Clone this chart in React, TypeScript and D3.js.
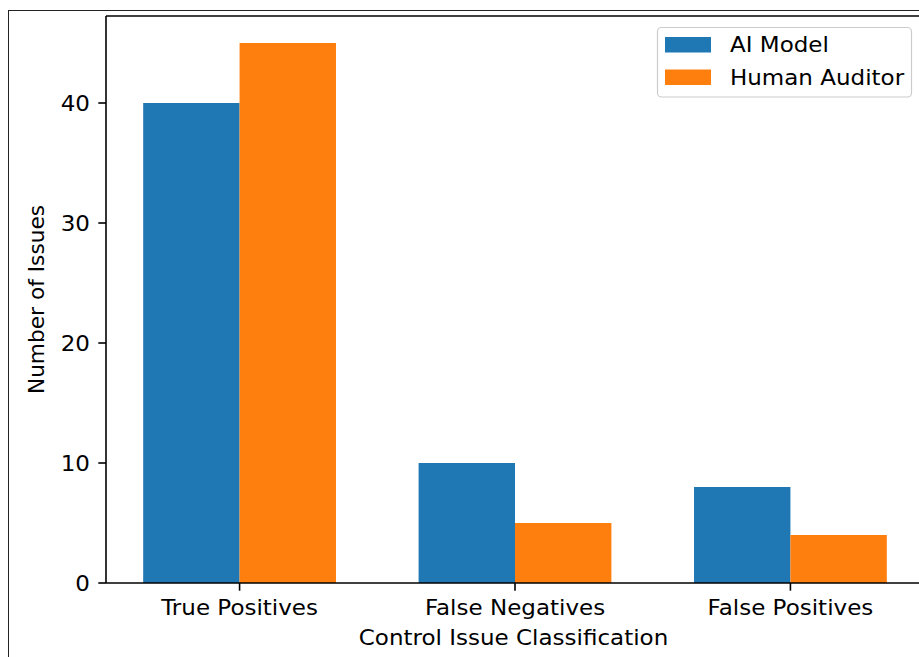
import React from "react";
import * as d3 from "d3";

const categories = ["True Positives", "False Negatives", "False Positives"];
const aiModel = [40, 10, 8];
const humanAuditor = [45, 5, 4];
const seriesNames = ["AI Model", "Human Auditor"];
const seriesColors = ["#1f77b4", "#ff7f0e"];
const yTicks = [0, 10, 20, 30, 40];

const W = 919;
const H = 657;
const FONT = "'DejaVu Sans', sans-serif";
const FS = 21.7;
const SX = 1.06;

function HText(props: {
  x: number;
  y: number;
  anchor?: "start" | "middle" | "end";
  baseline?: string;
  children: React.ReactNode;
}) {
  return (
    <g transform={`translate(${props.x}, ${props.y}) scale(${SX}, 1)`}>
      <text
        x={0}
        y={0}
        textAnchor={props.anchor || "start"}
        dominantBaseline={props.baseline as any}
        fontSize={FS}
        fill="#000"
      >
        {props.children}
      </text>
    </g>
  );
}

export default function App() {
  const left = 106;
  const right = 924;
  const top = 16;
  const bottom = 583;
  const barW = 0.35;
  const x = d3.scaleLinear().domain([-0.485, 2.485]).range([left, right]);
  const y = d3.scaleLinear().domain([0, 47.25]).range([bottom, top]);
  const series = [aiModel, humanAuditor];

  return (
    <svg
      width={W}
      height={H}
      style={{ position: "absolute", left: 0, top: 0, background: "#fff" }}
      fontFamily={FONT}
    >
      <rect x={0} y={0} width={W} height={H} fill="#fff" />
      <rect x={8.5} y={10.5} width={1200} height={1200} fill="none" stroke="#222" strokeWidth={1} />
      {series.map((vals, si) =>
        vals.map((v, i) => {
          const x0 = si === 0 ? x(i - barW) : x(i);
          const x1 = si === 0 ? x(i) : x(i + barW);
          return (
            <rect
              key={`${si}-${i}`}
              x={x0}
              y={y(v)}
              width={x1 - x0}
              height={y(0) - y(v)}
              fill={seriesColors[si]}
            />
          );
        })
      )}
      {/* spines */}
      <line x1={left} x2={left} y1={top} y2={bottom} stroke="#000" strokeWidth={1.6} />
      <line x1={left} x2={right} y1={bottom} y2={bottom} stroke="#000" strokeWidth={1.6} />
      <line x1={left} x2={right} y1={top} y2={top} stroke="#000" strokeWidth={1.6} />
      <line x1={right} x2={right} y1={top} y2={bottom} stroke="#000" strokeWidth={1.6} />
      {/* y ticks */}
      {yTicks.map((t) => (
        <g key={t}>
          <line x1={left - 7.7} x2={left} y1={y(t)} y2={y(t)} stroke="#000" strokeWidth={1.6} />
          <HText x={left - 16} y={y(t)} anchor="end" baseline="central">
            {t}
          </HText>
        </g>
      ))}
      {/* x ticks */}
      {categories.map((c, i) => (
        <g key={c}>
          <line x1={x(i)} x2={x(i)} y1={bottom} y2={bottom + 7.7} stroke="#000" strokeWidth={1.6} />
          <HText x={x(i)} y={615} anchor="middle">
            {c}
          </HText>
        </g>
      ))}
      <HText x={513.5} y={645} anchor="middle">
        Control Issue Classification
      </HText>
      <text
        transform={`translate(44, ${(top + bottom) / 2}) rotate(-90)`}
        textAnchor="middle"
        fontSize={FS}
        fill="#000"
      >
        Number of Issues
      </text>
      {/* legend */}
      <rect x={657.5} y={27.5} width={254} height={69.5} rx={4} fill="#fff" fillOpacity={0.8} stroke="#cccccc" strokeWidth={1.2} />
      {seriesNames.map((n, i) => (
        <g key={n}>
          <rect x={665} y={37 + i * 32.5} width={46} height={15.5} fill={seriesColors[i]} />
          <HText x={730} y={44.7 + i * 32.5} baseline="central">
            {n}
          </HText>
        </g>
      ))}
    </svg>
  );
}
